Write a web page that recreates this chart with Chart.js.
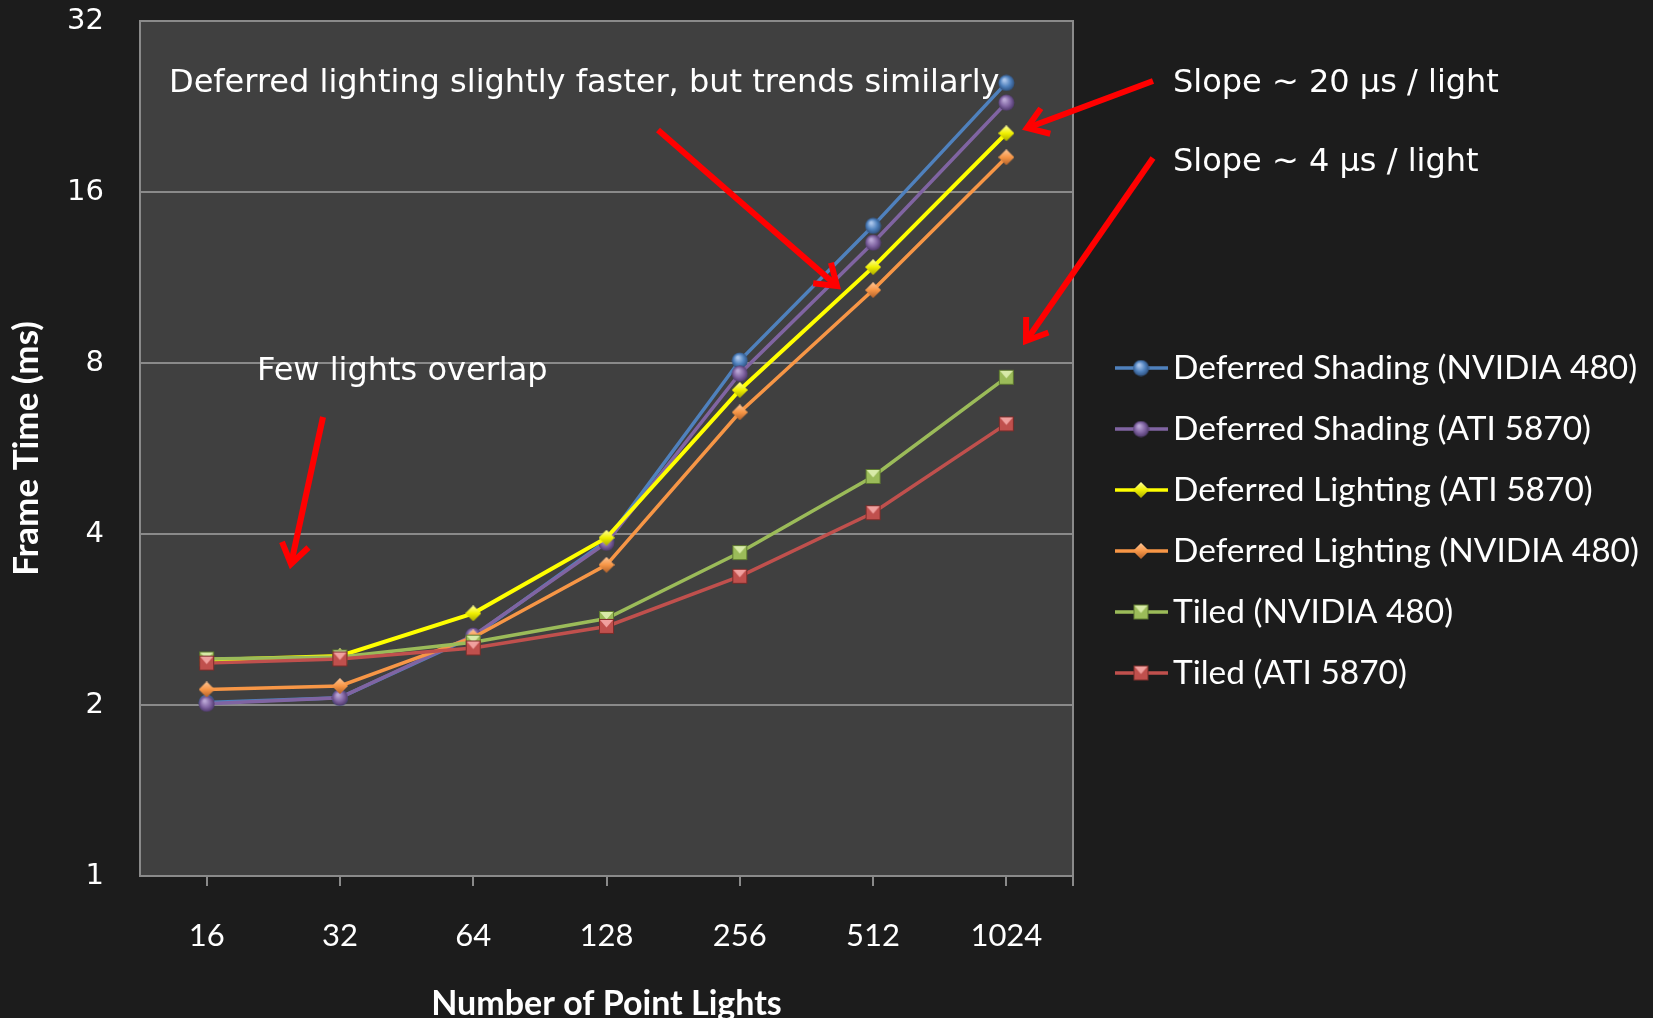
<!DOCTYPE html>
<html>
<head>
<meta charset="utf-8">
<script src="https://cdn.jsdelivr.net/npm/chart.js@4.4.0/dist/chart.umd.min.js"></script>
<style>
  html, body { margin: 0; padding: 0; background: #1c1c1c; }
  canvas { display: block; }
</style>
</head>
<body>
<canvas id="chartLights" width="1653" height="1018"></canvas>
<script>
const lightCounts = ['16', '32', '64', '128', '256', '512', '1024']
const frameTicks = [1, 2, 4, 8, 16, 32]
const seriesNames = ['Deferred Shading (NVIDIA 480)', 'Deferred Shading (ATI 5870)', 'Deferred Lighting (ATI 5870)', 'Deferred Lighting (NVIDIA 480)', 'Tiled (NVIDIA 480)', 'Tiled (ATI 5870)']
const dsNvidia = [2.02, 2.06, 2.64, 3.89, 8.08, 13.95, 24.9]
const dsAti = [2.01, 2.06, 2.65, 3.86, 7.66, 13.03, 22.98]
const dlAti = [2.40, 2.44, 2.90, 3.94, 7.17, 11.8, 20.3]
const dlNvidia = [2.13, 2.16, 2.63, 3.53, 6.55, 10.75, 18.42]
const tiledNvidia = [2.41, 2.43, 2.58, 2.84, 3.71, 5.05, 7.55]
const tiledAti = [2.37, 2.41, 2.52, 2.75, 3.37, 4.36, 6.25]

const calibri = 'Lato, "Open Sans", sans-serif'
const verdana = '"DejaVu Sans", Verdana, sans-serif'

// little shaded markers like the office ones
function makeMarker(shape, base, light, dark) {
    var size = shape == 'diamond' ? 16 : 17
    var c = document.createElement('canvas')
    c.width = size; c.height = size
    var g = c.getContext('2d')
    var h = size / 2
    if (shape == 'circle') {
        var grad = g.createRadialGradient(h - 2, h - 3, 1, h, h, h)
        grad.addColorStop(0, light)
        grad.addColorStop(0.55, base)
        grad.addColorStop(1, dark)
        g.fillStyle = grad
        g.beginPath(); g.arc(h, h, h - 0.5, 0, Math.PI * 2); g.fill()
    } else if (shape == 'diamond') {
        var grad2 = g.createLinearGradient(0, 0, 0, size)
        grad2.addColorStop(0, light)
        grad2.addColorStop(0.5, base)
        grad2.addColorStop(1, dark)
        g.fillStyle = grad2
        g.beginPath(); g.moveTo(h, 0); g.lineTo(size, h); g.lineTo(h, size); g.lineTo(0, h); g.closePath(); g.fill()
    } else {
        g.fillStyle = base
        g.fillRect(1, 1, size - 2, size - 2)
        g.fillStyle = light
        g.beginPath(); g.moveTo(2, 2); g.lineTo(size - 2, 2); g.lineTo(h, h + 1); g.closePath(); g.fill()
        g.strokeStyle = dark; g.lineWidth = 1
        g.strokeRect(1.5, 1.5, size - 3, size - 3)
    }
    return c
}

function series(i, data, color, width, marker, order) {
    return {
        label: seriesNames[i],
        data: data,
        borderColor: color,
        borderWidth: width,
        pointStyle: marker,
        pointRadius: 8,
        tension: 0,
        order: order
    }
}

const plotBack = {
    id: 'plotBack',
    beforeDraw(chart) {
        var a = chart.chartArea, ctx = chart.ctx
        ctx.save()
        ctx.fillStyle = '#404040'
        ctx.fillRect(a.left, a.top, a.right - a.left, a.bottom - a.top)
        ctx.restore()
    },
    afterDatasetsDraw(chart) {
        var a = chart.chartArea, ctx = chart.ctx
        ctx.save()
        ctx.strokeStyle = '#8a8a8a'
        ctx.lineWidth = 2
        ctx.strokeRect(a.left, a.top, a.right - a.left, a.bottom - a.top)
        ctx.beginPath(); ctx.moveTo(a.right, a.bottom); ctx.lineTo(a.right, a.bottom + 10); ctx.stroke()
        ctx.restore()
    }
}

const sideLegend = {
    id: 'sideLegend',
    afterDraw(chart) {
        var ctx = chart.ctx
        ctx.save()
        ctx.font = '32px ' + calibri
        ctx.textBaseline = 'middle'
        chart.data.datasets.forEach(function (ds, i) {
            var y = 368 + i * 61
            ctx.strokeStyle = ds.borderColor
            ctx.lineWidth = 3.5
            ctx.beginPath(); ctx.moveTo(1115, y); ctx.lineTo(1168, y); ctx.stroke()
            var m = ds.pointStyle
            ctx.drawImage(m, 1141 - m.width / 2, y - m.height / 2)
            ctx.save()
            ctx.translate(1173, y + 1)
            ctx.scale(1.045, 1)
            ctx.fillStyle = '#ffffff'
            ctx.fillText(ds.label, 0, 0)
            ctx.restore()
        })
        ctx.restore()
    }
}

function arrow(ctx, x1, y1, x2, y2) {
    var ang = Math.atan2(y2 - y1, x2 - x1)
    ctx.beginPath(); ctx.moveTo(x1, y1); ctx.lineTo(x2, y2); ctx.stroke()
    ctx.beginPath()
    ctx.moveTo(x2 - 24 * Math.cos(ang - 0.6), y2 - 24 * Math.sin(ang - 0.6))
    ctx.lineTo(x2, y2)
    ctx.lineTo(x2 - 24 * Math.cos(ang + 0.6), y2 - 24 * Math.sin(ang + 0.6))
    ctx.stroke()
}

const notes = {
    id: 'notes',
    afterDraw(chart) {
        var ctx = chart.ctx
        ctx.save()
        ctx.fillStyle = '#ffffff'
        ctx.textBaseline = 'middle'
        ctx.font = '32px ' + verdana
        ctx.fillText('Deferred lighting slightly faster, but trends similarly', 169, 84)
        ctx.fillText('Slope ~ 20 \u00b5s / light', 1173, 84)
        ctx.fillText('Slope ~ 4 \u00b5s / light', 1173, 163)
        ctx.fillText('Few lights overlap', 257, 372)
        ctx.strokeStyle = '#ff0000'
        ctx.lineWidth = 6
        ctx.lineCap = 'butt'
        ctx.lineJoin = 'miter'
        arrow(ctx, 1153, 81, 1027, 128)
        arrow(ctx, 1153, 158, 1026, 341)
        arrow(ctx, 658, 130, 837, 286)
        arrow(ctx, 323, 417, 291, 564)
        ctx.restore()
    }
}

var ctxLights = document.getElementById('chartLights').getContext('2d');
var chartLights = new Chart(ctxLights, {
    type: 'line',
    data: {
        labels: lightCounts,
        datasets: [
            series(0, dsNvidia, '#4f81bd', 3.5, makeMarker('circle', '#4f81bd', '#a9c4ea', '#2c4d7a'), 6),
            series(1, dsAti, '#8064a2', 3.5, makeMarker('circle', '#8064a2', '#b9a5d4', '#4a3566'), 5),
            series(2, dlAti, '#ffff00', 4, makeMarker('diamond', '#f0f000', '#ffffa0', '#a8a800'), 4),
            series(3, dlNvidia, '#f79646', 3.5, makeMarker('diamond', '#f79646', '#fcc596', '#b0602a'), 3),
            series(4, tiledNvidia, '#9bbb59', 3.5, makeMarker('square', '#9bbb59', '#d8eaa8', '#5f7a30'), 2),
            series(5, tiledAti, '#c0504d', 3.5, makeMarker('square', '#c0504d', '#f0a09e', '#7a2c2a'), 1)
        ]
    },
    options: {
        responsive: false,
        animation: false,
        layout: { padding: { top: 21, right: 580, left: 0, bottom: 0 } },
        plugins: {
            legend: { display: false },
            tooltip: { enabled: false }
        },
        scales: {
            x: {
                type: 'category',
                offset: true,
                grid: { offset: false, drawOnChartArea: false, drawTicks: true, tickLength: 10, color: '#8a8a8a', lineWidth: 2 },
                border: { display: false },
                ticks: { color: '#ffffff', font: { family: calibri, size: 31 }, padding: 31, maxRotation: 0 },
                title: { display: true, text: 'Number of Point Lights', color: '#ffffff', font: { family: calibri, size: 34, weight: 'bold' }, padding: { top: 0, bottom: -6 } },
                afterFit(scale) { scale.height = 142; scale.paddingLeft = 0; scale.paddingRight = 0 }
            },
            y: {
                type: 'logarithmic',
                min: 1,
                max: 32,
                grid: { color: '#8a8a8a', lineWidth: 2, drawTicks: false },
                border: { display: false },
                ticks: { color: '#ffffff', font: { family: verdana, size: 29 }, padding: 36, callback: function (v) { return String(v) } },
                title: { display: true, text: 'Frame Time (ms)', color: '#ffffff', font: { family: calibri, size: 35, weight: 'bold' }, padding: { top: 6, bottom: 0 } },
                afterBuildTicks(scale) { scale.ticks = frameTicks.map(function (v) { return { value: v } }) },
                afterFit(scale) { scale.width = 140; scale.paddingTop = 0; scale.paddingBottom = 0 }
            }
        }
    },
    plugins: [plotBack, sideLegend, notes]
});
</script>
</body>
</html>
